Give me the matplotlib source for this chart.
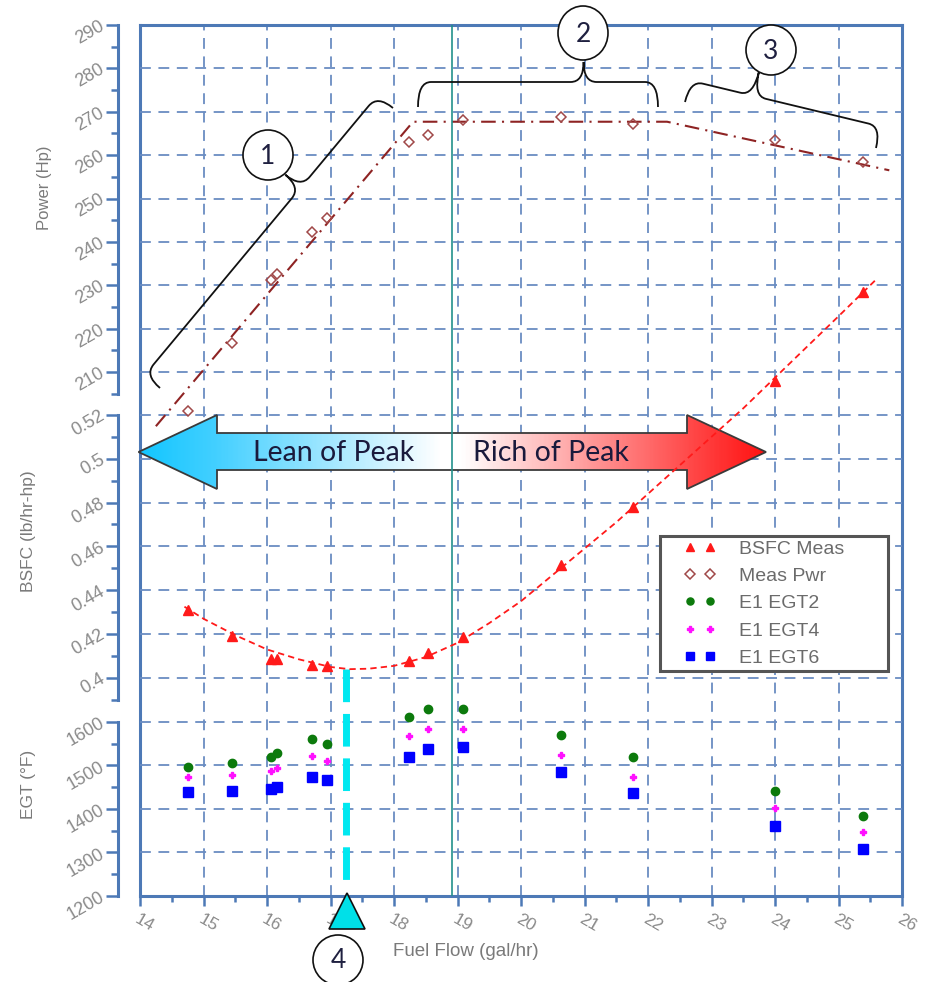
import numpy as np
import matplotlib
matplotlib.use("Agg")
import matplotlib.pyplot as plt
from matplotlib.patches import Polygon, Ellipse, PathPatch
from matplotlib.path import Path
from matplotlib.colors import LinearSegmentedColormap
from matplotlib.legend_handler import HandlerLine2D

plt.rcParams["font.family"] = ["Liberation Sans", "DejaVu Sans"]

W, H = 926, 982
FRAME = "#4d79b6"
GRID = "#6a8cc2"
TICKTXT = "#8a8a8a"
LABTXT = "#7a7a7a"
PWR = "#8e2323"
RED = "#ff1a1a"

# ---- measured points (fuel flow, gal/hr) ----
fuel_flow = [14.75, 15.45, 16.06, 16.15, 16.71, 16.94, 18.24, 18.54, 19.09, 20.63, 21.76, 24.0, 25.38]
bsfc_meas = [0.431, 0.419, 0.4085, 0.4085, 0.4058, 0.4055, 0.4075, 0.4113, 0.4187, 0.4516, 0.478, 0.5357, 0.5759]
meas_pwr = [201.0, 216.6, 231.1, 232.5, 242.2, 245.5, 263.0, 264.6, 268.0, 268.7, 267.1, 263.4, 258.5]
egt2 = [1497, 1506, 1520, 1529, 1561, 1549, 1612, 1630, 1630, 1569, 1519, 1442, 1384]
egt4 = [1473, 1478, 1488, 1494, 1522, 1510, 1568, 1585, 1585, 1524, 1474, 1402, 1348]
egt6 = [1439, 1441, 1445, 1450, 1474, 1467, 1519, 1537, 1542, 1485, 1437, 1362, 1307]

# ---- fitted curves ----
bsfc_fit_ff = [14.7, 15.0, 15.5, 16.0, 16.5, 17.0, 17.3, 17.6, 18.0, 18.5, 19.0, 19.5,
               20.0, 20.5, 21.0, 21.5, 22.0, 22.5, 23.0, 23.5, 24.0, 24.5, 25.0, 25.6]
bsfc_fit = [0.4325, 0.427, 0.4195, 0.413, 0.4085, 0.405, 0.404, 0.4042, 0.4055, 0.4095, 0.416, 0.425,
            0.435, 0.447, 0.459, 0.471, 0.484, 0.497, 0.510, 0.523, 0.537, 0.551, 0.565, 0.582]
pwr_fit_ff = [14.25, 18.3, 22.3, 25.8]
pwr_fit = [197.5, 267.7, 267.7, 256.5]

PEAK_POWER_FF = 18.91      # teal marker line
BEST_ECON_FF = 17.25       # cyan dashed marker (4)
BEST_ECON_BSFC = 0.404

# ---- axes scales / ticks ----
x_major = list(range(14, 27))
x_minor = [v + 0.5 for v in range(14, 26)]
p_major = list(range(210, 291, 10)); p_minor = list(range(205, 290, 10))
p_grid = list(range(200, 281, 10))
b_major = [0.40, 0.42, 0.44, 0.46, 0.48, 0.50, 0.52]
b_labels = ["0.4", "0.42", "0.44", "0.46", "0.48", "0.5", "0.52"]
b_minor = [0.39, 0.41, 0.43, 0.45, 0.47, 0.49, 0.51]
b_grid = [0.40, 0.42, 0.44, 0.46, 0.48, 0.50]
e_major = [1200, 1300, 1400, 1500, 1600]; e_minor = [1250, 1350, 1450, 1550]
e_grid = [1300, 1400, 1500, 1600]

fig = plt.figure(figsize=(W / 100, H / 100), dpi=100)
L_, R_, T_, B_ = 140, 902, 25, 896
rect = [L_ / W, 1 - B_ / H, (R_ - L_) / W, (B_ - T_) / H]
ax_f = fig.add_axes(rect, zorder=0)
ax_e = fig.add_axes(rect, zorder=1)
ax_p = fig.add_axes(rect, zorder=2)
ax_b = fig.add_axes(rect, zorder=3)
ov = fig.add_axes([0, 0, 1, 1], zorder=4)
ov.set_xlim(0, W); ov.set_ylim(H, 0); ov.axis("off"); ov.patch.set_visible(False)

GRID_KW = dict(color=GRID, lw=1.3, dashes=(6, 4.2), zorder=0.5)

# frame + x axis
ax_f.set_xlim(14, 26); ax_f.set_ylim(0, 1); ax_f.set_yticks([])
for s in ax_f.spines.values():
    s.set_color(FRAME); s.set_linewidth(2.2)
ax_f.set_xticks(x_major)
ax_f.set_xticklabels([str(v) for v in x_major], rotation=-30, ha="left", va="top",
                     rotation_mode="anchor")
ax_f.set_xticks(x_minor, minor=True)
ax_f.tick_params(axis="x", which="major", direction="out", length=7, width=1.8,
                 color=FRAME, labelcolor=TICKTXT, labelsize=12.5, pad=4)
ax_f.tick_params(axis="x", which="minor", direction="out", length=4, width=1.8, color=FRAME)
for x in x_major[1:-1]:
    ax_f.axvline(x, **GRID_KW)


def left_axis(ax, lim, bounds, major, labels, minor, grid):
    ax.patch.set_visible(False)
    for k in ("top", "right", "bottom"):
        ax.spines[k].set_visible(False)
    sp = ax.spines["left"]
    sp.set_position(("outward", 15.5)); sp.set_bounds(*bounds)
    sp.set_color(FRAME); sp.set_linewidth(2.2)
    ax.set_xticks([])
    ax.set_yticks(major)
    ax.set_yticklabels(labels, rotation=30, ha="right", va="center", rotation_mode="anchor")
    ax.set_yticks(minor, minor=True)
    ax.tick_params(axis="y", which="major", direction="out", length=9, width=1.8,
                   color=FRAME, labelcolor=TICKTXT, labelsize=13, pad=2)
    ax.tick_params(axis="y", which="minor", direction="out", length=5, width=1.8, color=FRAME)
    for g in grid:
        ax.axhline(g, **GRID_KW)
    ax.set_xlim(14, 26); ax.set_ylim(*lim)


left_axis(ax_p, (89.2, 290), (205, 290), p_major, [str(v) for v in p_major], p_minor, p_grid)
left_axis(ax_b, (0.3005, 0.6979), (0.39, 0.52), b_major, b_labels, b_minor, b_grid)
left_axis(ax_e, (1200, 3202), (1200, 1600), e_major, [str(v) for v in e_major], e_minor, e_grid)

# ---- lean / rich arrow (pixel geometry, drawn under the data) ----
arrow_xy = [(138.5, 452), (217, 415), (217, 433), (687, 433), (687, 415), (766, 452),
            (687, 489), (687, 470), (217, 470), (217, 489)]
arrow_poly = Polygon(arrow_xy, closed=True, transform=ov.transData, facecolor="none",
                     edgecolor="#3a3a3a", lw=1.3, zorder=1.1, clip_on=False)
ax_b.add_patch(arrow_poly)
x0, x1 = 138.5, 766
cmap = LinearSegmentedColormap.from_list("lr", [
    (0.0, "#12c6ff"), ((217 - x0) / (x1 - x0), "#45d0ff"), ((440 - x0) / (x1 - x0), "#ffffff"),
    ((462 - x0) / (x1 - x0), "#ffffff"), ((690 - x0) / (x1 - x0), "#ff4a4a"), (1.0, "#ff1212")])
grad = np.linspace(0, 1, 400)[None, :]
im = ax_b.imshow(grad, cmap=cmap, extent=(x0, x1, 489, 415), aspect="auto",
                 transform=ov.transData, zorder=1, interpolation="bilinear")
im.set_clip_path(arrow_poly)
im.set_clip_box(None)
ax_b.text(334, 453, "Lean of Peak", transform=ov.transData, ha="center", va="center",
          fontsize=20.5, family="Lato", color="#1a1a3c", zorder=1.2)
ax_b.text(551, 453, "Rich of Peak", transform=ov.transData, ha="center", va="center",
          fontsize=20.5, family="Lato", color="#1a1a3c", zorder=1.2)

# ---- data ----
ax_p.plot(pwr_fit_ff, pwr_fit, color=PWR, lw=1.5, ls=(0, (7, 3, 1, 3)), zorder=2)
h_pwr, = ax_p.plot(fuel_flow, meas_pwr, ls="none", marker="D", ms=5.5, mfc="none",
                   mec="#a04848", mew=1.1, zorder=3, label="Meas Pwr")

ax_b.axvline(PEAK_POWER_FF, color="#23918c", lw=1.2, zorder=2)
ax_b.plot(bsfc_fit_ff, bsfc_fit, color=RED, lw=1.3, dashes=(3.5, 2.3), zorder=2.1)
h_bsfc, = ax_b.plot(fuel_flow, bsfc_meas, ls="none", marker="^", ms=7.5, color=RED,
                    zorder=3, label="BSFC Meas")
ax_b.plot([BEST_ECON_FF, BEST_ECON_FF], [BEST_ECON_BSFC, 0.3045], color="#00e8f0", lw=5,
          dashes=(4.7, 1.7), zorder=2)

h_e2, = ax_e.plot(fuel_flow, egt2, ls="none", marker="o", ms=6, color="#0c7a0c", zorder=3,
                  label="E1 EGT2")
h_e4, = ax_e.plot(fuel_flow, egt4, ls="none", marker="P", ms=5, color="#ff10ff", zorder=3,
                  label="E1 EGT4")
h_e6, = ax_e.plot(fuel_flow, egt6, ls="none", marker="s", ms=7, color="#0000ff", zorder=3,
                  label="E1 EGT6")

handles = [h_bsfc, h_pwr, h_e2, h_e4, h_e6]
leg = ax_b.legend(handles, ["BSFC Meas", "Meas Pwr", "E1 EGT2", "E1 EGT4", "E1 EGT6"],
                  handler_map={h: HandlerLine2D(marker_pad=1.35, numpoints=2) for h in handles},
                  loc="upper left", bbox_to_anchor=(660 / W, 1 - 677 / H, 228 / W, 141 / H),
                  bbox_transform=fig.transFigure, mode="expand", borderaxespad=0,
                  numpoints=2, markerscale=0.85, handlelength=3.72, handletextpad=0.15,
                  borderpad=0.2, labelspacing=0.5, fontsize=14, frameon=True, fancybox=False,
                  framealpha=1, edgecolor="#555555")
leg.get_frame().set_linewidth(2.2)
leg.set_zorder(10)
for t in leg.get_texts():
    t.set_color("#6b6b6b")

# ---- axis titles ----
ov.text(44, 188, "Power (Hp)", rotation=90, ha="center", va="center", fontsize=12, color=LABTXT)
ov.text(29, 531, "BSFC (lb/hr-hp)", rotation=90, ha="center", va="center", fontsize=12.5,
        color=LABTXT)
ov.text(29, 784, "EGT (°F)", rotation=90, ha="center", va="center", fontsize=12.5, color=LABTXT)
ov.text(466, 952, "Fuel Flow (gal/hr)", ha="center", va="center", fontsize=13.5, color=LABTXT)


# ---- braces and numbered call-outs ----
def brace(p0, p1, f, h, d, q=13):
    p0 = np.array(p0, float); p1 = np.array(p1, float)
    L = np.hypot(*(p1 - p0)); u = (p1 - p0) / L; n = np.array([u[1], -u[0]])
    m = f * L

    def P(s, w):
        return p0 + s * u + w * n
    verts = [P(0, 0), P(0, h), P(q, h), P(m - q, h), P(m, h), P(m, d), P(m, h), P(m + q, h),
             P(L - q, h), P(L, h), P(L, 0)]
    codes = [Path.MOVETO, Path.CURVE3, Path.CURVE3, Path.LINETO, Path.CURVE3, Path.CURVE3,
             Path.CURVE3, Path.CURVE3, Path.LINETO, Path.CURVE3, Path.CURVE3]
    ov.add_patch(PathPatch(Path(verts, codes), facecolor="none", edgecolor="#111111", lw=1.3))


def callout(cx, cy, txt, rx=25, ry=25):
    ov.add_patch(Ellipse((cx, cy), 2 * rx, 2 * ry, facecolor="white", edgecolor="#111111", lw=1.2))
    ov.text(cx, cy + 1, txt, ha="center", va="center", fontsize=19, family="Lato",
            color="#1f2040")


brace((160, 388), (393, 108), 0.67, 20, 40, q=14)
brace((418, 107), (658, 107), 0.69, 25, 45, q=13)
brace((685, 102), (876, 148), 0.33, 22, 47, q=13)
callout(268, 155, "1")
callout(583, 33, "2", ry=27)
callout(771, 50, "3")
ov.add_patch(Polygon([(347, 893), (329, 929), (365, 929)], closed=True, facecolor="#00e0e8",
                     edgecolor="#111111", lw=1.2))
callout(338, 960, "4")

fig.savefig("out.png", dpi=100)
